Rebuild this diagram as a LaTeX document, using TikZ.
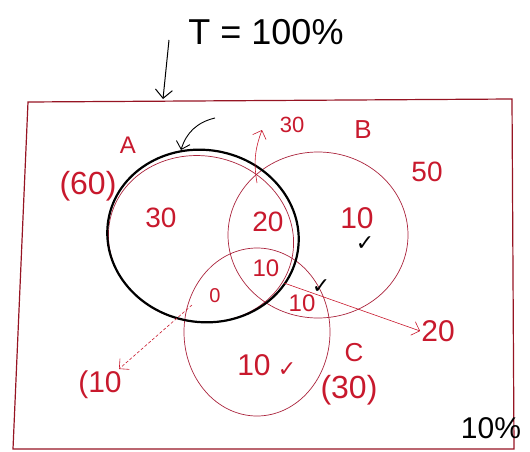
\documentclass[tikz,border=0pt]{standalone}
\usepackage{fontspec}
\setmainfont{Liberation Sans}
\newfontfamily\symfont{DejaVu Sans}
\usetikzlibrary{positioning,arrows.meta,shapes.geometric}
\definecolor{inkred}{RGB}{200,25,45}
\definecolor{framered}{RGB}{150,20,35}
\definecolor{setred}{RGB}{170,35,60}

\begin{document}
\begin{tikzpicture}[
    x=1pt, y=-1pt,
    setA/.style={draw, ellipse, line width=2.2pt, black, inner sep=0pt},
    setBC/.style={draw, ellipse, line width=0.7pt, draw=setred, inner sep=0pt},
    redlbl/.style={text=inkred, font=\fontsize{28}{32}\selectfont, inner sep=1pt},
    blklbl/.style={text=black, font=\fontsize{30}{34}\selectfont, inner sep=1pt},
    tick/.style={font=\symfont\fontsize{22}{24}\selectfont, inner sep=0pt},
    pointer/.style={-{Straight Barb[length=2.5mm]}, line width=0.6pt, inkred}
]
\useasboundingbox (0,0) rectangle (530,452);

\draw[framered, line width=1.2pt] (28,102) -- (512,99) -- (514,449) -- (13,449) -- cycle;

\node[setBC, minimum width=180pt, minimum height=166pt] (B) at (318,235) {};
\node[setBC, minimum width=146pt, minimum height=168pt] (C) at (257,332) {};
\node[setBC, minimum width=186pt, minimum height=166pt, rotate=-12] (Aink) at (201,239) {};
\node[setA, minimum width=192pt, minimum height=172pt, rotate=-10] (A) at (203,236) {};

\node[blklbl, font=\fontsize{36}{40}\selectfont] (total) at (266,32) {T = 100\%};
\coordinate (Thead) at (169,40);
\coordinate (Tfoot) at (163,99);
\draw[-{Straight Barb[length=3mm]}, line width=1pt] (Thead) -- (Tfoot);

\node[redlbl, font=\fontsize{24}{28}\selectfont] (nameA) at (128,145) {A};
\node[redlbl, font=\fontsize{32}{36}\selectfont] (totA) at (88,186) {(60)};
\node[redlbl] (onlyA) at (161,218) {30};
\node[redlbl] (AB) at (268,222) {20};
\node[redlbl, font=\fontsize{24}{28}\selectfont] (ABC) at (266,268) {10};
\node[redlbl, font=\fontsize{20}{24}\selectfont] (AC) at (215,296) {0};
\node[redlbl, font=\fontsize{24}{28}\selectfont] (BC) at (302,303) {10};
\node[redlbl, font=\fontsize{30}{34}\selectfont] (onlyB) at (357,218) {10};
\node[tick] (chkB) at (365,244) {✓};
\node[redlbl, font=\fontsize{26}{30}\selectfont] (nameB) at (363,130) {B};
\node[redlbl] (totB) at (427,172) {50};
\node[redlbl, font=\fontsize{30}{34}\selectfont] (onlyC) at (254,365) {10};
\node[tick, text=inkred] (chkC) at (287,370) {✓};
\node[tick] (chkBC) at (321,287) {✓};
\node[redlbl, font=\fontsize{26}{30}\selectfont] (nameC) at (354,353) {C};
\node[redlbl, font=\fontsize{32}{36}\selectfont] (totC) at (349,390) {(30)};

\node[redlbl, font=\fontsize{22}{26}\selectfont] (sumAB) at (292,125) {30};
\node[redlbl, font=\fontsize{30}{34}\selectfont] (sumBC) at (438,331) {20};
\node[redlbl, font=\fontsize{30}{34}\selectfont] (sumAC) at (100,385) {(10};
\node[blklbl] (none) at (491,428) {10\%};

\coordinate (Apin) at (215,118);
\coordinate (Atop) at (181,150);
\draw[-{Straight Barb[length=2.5mm]}, line width=0.9pt] (Apin) to[bend right=30] (Atop);

\coordinate (ABpin) at (257,183);
\coordinate (ABup) at (262,130);
\draw[pointer] (ABpin) to[bend left=15] (ABup);

\coordinate (BCpin) at (284,283);
\draw[pointer] (BCpin) -- (sumBC.west);

\coordinate (ACpin) at (192,305);
\coordinate (ACdown) at (119,369);
\draw[pointer, densely dashed] (ACpin) -- (ACdown);

\end{tikzpicture}
\end{document}
